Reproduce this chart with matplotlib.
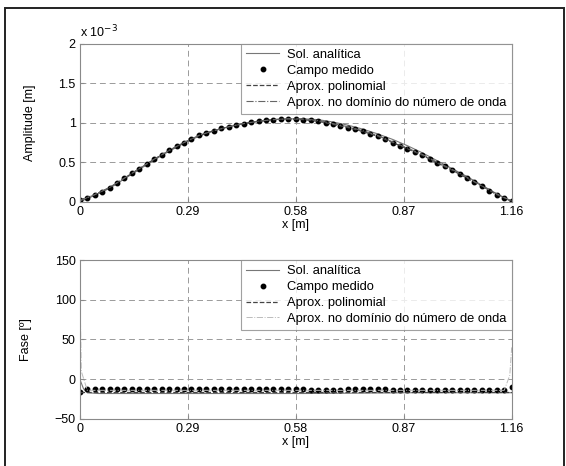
import numpy as np
import matplotlib
matplotlib.use('Agg')
import matplotlib.pyplot as plt
from matplotlib.patches import Rectangle

plt.rcParams['font.family'] = ['Liberation Sans', 'DejaVu Sans']
plt.rcParams['font.size'] = 9

# Measured points (every 0.02 m)
x_med = np.linspace(0, 1.16, 59)
amp_med = [0.02, 0.05, 0.09, 0.13, 0.18, 0.24, 0.30, 0.36, 0.42, 0.48,
           0.54, 0.59, 0.65, 0.70, 0.75, 0.80, 0.84, 0.87, 0.90, 0.93,
           0.95, 0.97, 0.99, 1.01, 1.02, 1.03, 1.04, 1.05, 1.05, 1.05,
           1.04, 1.03, 1.02, 1.00, 0.98, 0.96, 0.94, 0.92, 0.89, 0.86,
           0.83, 0.79, 0.75, 0.71, 0.67, 0.63, 0.59, 0.54, 0.49, 0.45,
           0.40, 0.35, 0.30, 0.25, 0.20, 0.14, 0.09, 0.05, 0.01]
fase_med = [-16, -12, -12, -12, -12, -12, -12, -12, -12, -12,
            -12, -12, -12, -12, -12, -12, -12, -12, -12, -12,
            -12, -12, -12, -12, -12, -12, -12, -12, -12, -12,
            -12, -13, -13, -13, -13, -13, -12, -12, -12, -12,
            -12, -12, -13, -13, -13, -13, -13, -13, -13, -13,
            -13, -13, -13, -13, -13, -13, -13, -13, -10]

# Curves (every 0.04 m)
x_curve = np.linspace(0, 1.16, 30)
amp_sol = [0.00, 0.08, 0.17, 0.29, 0.41, 0.53, 0.64, 0.74, 0.83, 0.90,
           0.95, 0.99, 1.02, 1.04, 1.05, 1.05, 1.04, 1.01, 0.97, 0.92,
           0.86, 0.79, 0.71, 0.62, 0.52, 0.42, 0.32, 0.21, 0.10, 0.00]
amp_poli = [0.02, 0.09, 0.18, 0.30, 0.42, 0.54, 0.65, 0.75, 0.84, 0.90,
            0.95, 0.99, 1.02, 1.04, 1.05, 1.04, 1.02, 0.98, 0.94, 0.89,
            0.83, 0.75, 0.67, 0.59, 0.49, 0.40, 0.30, 0.20, 0.09, 0.01]
amp_kw = [0.01, 0.09, 0.18, 0.30, 0.42, 0.54, 0.65, 0.75, 0.84, 0.90,
          0.95, 0.99, 1.02, 1.04, 1.05, 1.05, 1.03, 0.99, 0.95, 0.90,
          0.84, 0.76, 0.68, 0.60, 0.50, 0.41, 0.31, 0.20, 0.10, 0.01]

x_fase_sol = [0, 0.005, 0.01, 0.02, 0.05, 0.3, 0.6, 0.9, 1.16]
fase_sol = [0, -6, -12, -17, -18, -18, -18, -17, -17]
x_fase_poli = [0, 0.3, 0.6, 0.9, 1.16]
fase_poli = [-16, -16, -16, -16, -16]
x_fase_kw = [0, 0.004, 0.02, 0.3, 0.6, 0.9, 1.14, 1.155, 1.16]
fase_kw = [125, 10, -14, -14, -14, -14, -14, 5, 40]

xticks = [0, 0.29, 0.58, 0.87, 1.16]
legenda = ['Sol. analítica', 'Campo medido', 'Aprox. polinomial',
           'Aprox. no domínio do número de onda']

fig = plt.figure(figsize=(5.66, 4.66), dpi=100)
ax1 = fig.add_axes([0.141, 0.567, 0.763, 0.339])
ax2 = fig.add_axes([0.141, 0.101, 0.763, 0.341])

lc = '#444444'
for ax in (ax1, ax2):
    for s in ax.spines.values():
        s.set_color('#8a8a8a')
        s.set_linewidth(0.8)
    ax.grid(True, color='#9a9a9a', linestyle=(0, (6, 4)), linewidth=0.7)
    ax.tick_params(direction='in', length=3, color='#8a8a8a', pad=3)
    ax.set_xlim(0, 1.16)
    ax.set_xticks(xticks)
    ax.set_xticklabels(['0', '0.29', '0.58', '0.87', '1.16'])
    ax.set_xlabel('x [m]', labelpad=1)

# Amplitude
s = 1e-3
ax1.plot(x_curve, np.array(amp_sol) * s, '-', color='#777777', lw=0.8)
ax1.plot(x_med, np.array(amp_med) * s, 'o', color='black', ms=3.2)
ax1.plot(x_curve, np.array(amp_poli) * s, '--', color=lc, lw=0.9)
ax1.plot(x_curve, np.array(amp_kw) * s, '-.', color='#666666', lw=0.8)
ax1.set_ylim(0, 2e-3)
ax1.set_yticks([0, 0.5e-3, 1e-3, 1.5e-3, 2e-3])
ax1.set_yticklabels(['0', '0.5', '1', '1.5', '2'])
ax1.text(0, 1.02, r'x 10$^{-3}$', transform=ax1.transAxes, fontsize=9,
         va='bottom', ha='left')
ax1.set_ylabel('Amplitude [m]', labelpad=16)

# Fase
ax2.plot(x_fase_sol, fase_sol, '-', color='#777777', lw=0.8)
ax2.plot(x_med, fase_med, 'o', color='black', ms=3.2)
ax2.plot(x_fase_poli, fase_poli, '--', color=lc, lw=0.9)
ax2.plot(x_fase_kw, fase_kw, '-.', color='#bbbbbb', lw=0.7)
ax2.set_ylim(-50, 150)
ax2.set_yticks([-50, 0, 50, 100, 150])
ax2.set_ylabel('Fase [º]', labelpad=16)

for ax in (ax1, ax2):
    leg = ax.legend(legenda, loc='upper right', bbox_to_anchor=(1.0, 1.0),
                    frameon=True, fancybox=False, borderaxespad=0,
                    handlelength=2.6, handletextpad=0.6, labelspacing=0.3,
                    borderpad=0.4, fontsize=9.3)
    leg.get_frame().set_edgecolor('#8a8a8a')
    leg.get_frame().set_linewidth(0.8)

# Outer frame of the scanned figure
fig.add_artist(Rectangle((0.008, -0.02), 0.988, 1.003, transform=fig.transFigure,
                         fill=False, edgecolor='#222222', lw=1.4))

fig.savefig('out.png', dpi=100)
